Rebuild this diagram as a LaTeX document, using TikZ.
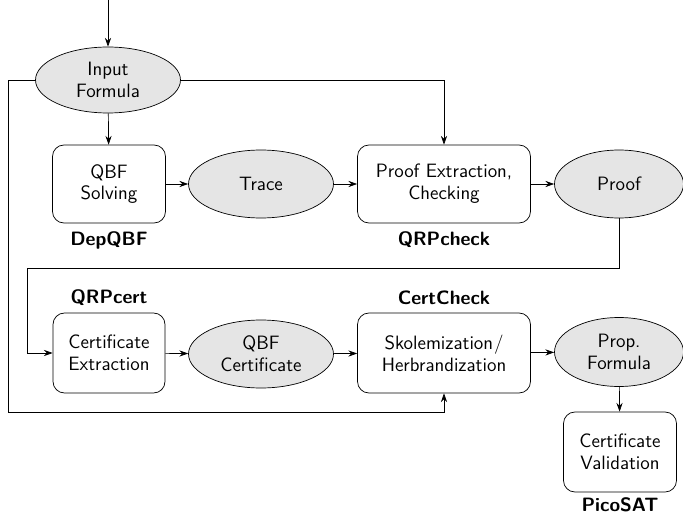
\documentclass[tikz,border=0pt]{standalone}
\usetikzlibrary{arrows.meta,shapes.geometric}
\begin{document}
\begin{tikzpicture}[x=0.02cm, y=-0.02cm, >={Stealth[length=5pt,width=3.5pt]}, font=\sffamily\fontsize{11}{12.4}\selectfont,
        proc/.style={draw, rounded corners=6.5pt, align=center, fill=white},
        data/.style={draw, ellipse, fill=gray!20, align=center, inner sep=0pt},
        tool/.style={font=\sffamily\bfseries\fontsize{11}{12.4}\selectfont}]
        \useasboundingbox (0,0) rectangle (683,517);

        % first row
        \node[data, minimum width=2.9cm, minimum height=1.32cm] (input) at (108,80) {Input\\Formula};
        \node[proc, minimum width=2.26cm, minimum height=1.56cm] (solve) at (109,184) {QBF\\Solving};
        \node[data, minimum width=2.9cm, minimum height=1.36cm] (trace) at (261,184) {Trace};
        \node[proc, minimum width=3.46cm, minimum height=1.56cm] (check) at (444,184) {Proof Extraction,\\Checking};
        \node[data, minimum width=2.58cm, minimum height=1.36cm] (proof) at (619,184) {Proof};

        % second row
        \node[proc, minimum width=2.24cm, minimum height=1.6cm] (extract) at (109,353) {Certificate\\Extraction};
        \node[data, minimum width=2.9cm, minimum height=1.36cm] (cert) at (261,354) {QBF\\Certificate};
        \node[proc, minimum width=3.46cm, minimum height=1.6cm] (skolem) at (444,353) {Skolemization\kern0.5pt/\\Herbrandization};
        \node[data, minimum width=2.58cm, minimum height=1.38cm] (prop) at (619,352) {Prop.\\Formula};
        \node[proc, minimum width=2.26cm, minimum height=1.6cm] (valid) at (620,452) {Certificate\\Validation};

        % tools
        \node[tool] (depqbf) at (109,240) {DepQBF};
        \node[tool] (qrpcheck) at (444,240) {QRPcheck};
        \node[tool] (qrpcert) at (109,298) {QRPcert};
        \node[tool] (certcheck) at (444,298) {CertCheck};
        \node[tool] (picosat) at (620,505) {PicoSAT};

        \coordinate (start) at (108,0);

        \draw[->] (start) -- (input);
        \draw[->] (input) -- (solve);
        \draw[->] (solve) -- (trace);
        \draw[->] (trace) -- (check);
        \draw[->] (check) -- (proof);
        \draw[->] (input.east) -| (check.north);
        \draw[->] (proof.south) |- (27,268) |- (extract.west);
        \draw[->] (extract) -- (cert);
        \draw[->] (cert) -- (skolem);
        \draw[->] (skolem) -- (prop);
        \draw[->] (prop) -- (valid);
        \draw[->] (input.west) -| (8,412) -| (skolem.south);
        \end{tikzpicture}
\end{document}
